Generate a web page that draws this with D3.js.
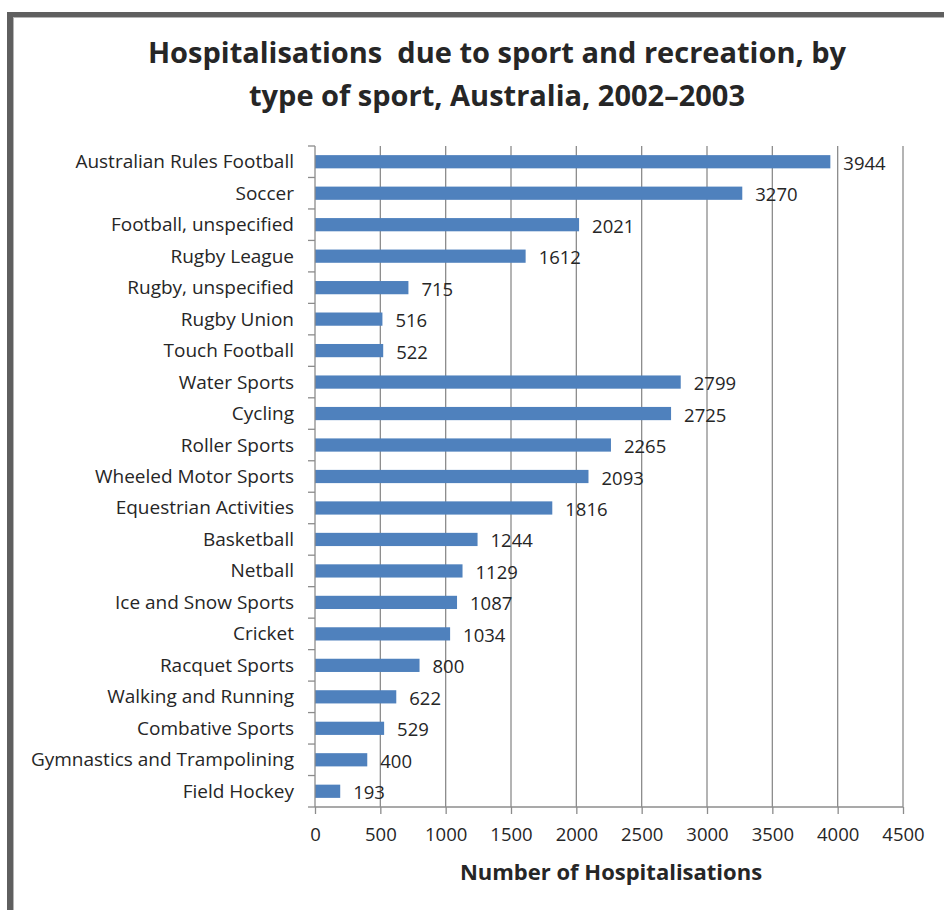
<!DOCTYPE html>
<html>
<head>
<meta charset="utf-8">
<script src="https://cdn.jsdelivr.net/npm/d3@7"></script>
<style>
  body { margin: 0; background: #fff; }
  svg text { font-family: "Open Sans", "Noto Sans", sans-serif; fill: #262626; }
</style>
</head>
<body>
<div id="chart"></div>
<script>
const sports = [
  "Australian Rules Football", "Soccer", "Football, unspecified", "Rugby League",
  "Rugby, unspecified", "Rugby Union", "Touch Football", "Water Sports", "Cycling",
  "Roller Sports", "Wheeled Motor Sports", "Equestrian Activities", "Basketball",
  "Netball", "Ice and Snow Sports", "Cricket", "Racquet Sports", "Walking and Running",
  "Combative Sports", "Gymnastics and Trampolining", "Field Hockey"
];
const hospitalisations = [
  3944, 3270, 2021, 1612, 715, 516, 522, 2799, 2725, 2265, 2093, 1816,
  1244, 1129, 1087, 1034, 800, 622, 529, 400, 193
];
const xTicks = [0, 500, 1000, 1500, 2000, 2500, 3000, 3500, 4000, 4500];
const titleLines = ["Hospitalisations  due to sport and recreation, by", "type of sport, Australia, 2002\u20132003"];
const xTitle = "Number of Hospitalisations";

const data = sports.map((s, i) => ({ sport: s, value: hospitalisations[i] }));

const width = 944, height = 910;
const plot = { left: 315, right: 903, top: 146, bottom: 807 };

const svg = d3.select("#chart").append("svg")
  .attr("width", width)
  .attr("height", height);

// frame (grey border on top and left)
svg.append("rect").attr("x", 7).attr("y", 12).attr("width", width).attr("height", 5).attr("fill", "#5f5f5f");
svg.append("rect").attr("x", 7).attr("y", 12).attr("width", 6).attr("height", height).attr("fill", "#5f5f5f");
svg.append("rect").attr("x", 13).attr("y", 17).attr("width", width).attr("height", 1).attr("fill", "#b5b5b5");
svg.append("rect").attr("x", 13).attr("y", 17).attr("width", 1).attr("height", height).attr("fill", "#b5b5b5");

const xScale = d3.scaleLinear().domain([0, 4500]).range([plot.left, plot.right]);
const yScale = d3.scaleBand().domain(sports).range([plot.top, plot.bottom]).paddingInner(0.58).paddingOuter(0.29);

// gridlines
svg.append("g")
  .selectAll("line")
  .data(xTicks.filter(d => d > 0))
  .join("line")
  .attr("x1", d => xScale(d)).attr("x2", d => xScale(d))
  .attr("y1", plot.top).attr("y2", plot.bottom)
  .attr("stroke", "#8c8c8c").attr("stroke-width", 1.3);

// bars
svg.append("g")
  .selectAll("rect")
  .data(data)
  .join("rect")
  .attr("x", xScale(0))
  .attr("y", d => yScale(d.sport))
  .attr("width", d => xScale(d.value) - xScale(0))
  .attr("height", yScale.bandwidth())
  .attr("fill", "#4f81bd");

// value labels
svg.append("g")
  .selectAll("text")
  .data(data)
  .join("text")
  .attr("x", d => xScale(d.value) + 13)
  .attr("y", d => yScale(d.sport) + yScale.bandwidth() / 2 + 8)
  .attr("font-size", 18.5)
  .text(d => d.value);

// x axis
const xAxis = svg.append("g")
  .attr("transform", `translate(0,${plot.bottom})`)
  .call(d3.axisBottom(xScale).tickValues(xTicks).tickSize(7).tickPadding(14).tickFormat(d3.format("d")));
xAxis.select(".domain").attr("stroke", "#8c8c8c").attr("stroke-width", 1.3).attr("d", `M${plot.left},0H${plot.right}`);
xAxis.selectAll(".tick line").attr("stroke", "#8c8c8c").attr("stroke-width", 1.3);
xAxis.selectAll(".tick text").attr("font-size", 18.5).attr("font-family", null).attr("fill", "#262626");

// y axis line and ticks between categories
svg.append("line")
  .attr("x1", plot.left).attr("x2", plot.left)
  .attr("y1", plot.top).attr("y2", plot.bottom)
  .attr("stroke", "#8c8c8c").attr("stroke-width", 1.3);
const step = yScale.step();
svg.append("g")
  .selectAll("line")
  .data(d3.range(sports.length + 1))
  .join("line")
  .attr("x1", plot.left - 7).attr("x2", plot.left)
  .attr("y1", i => plot.top + i * step).attr("y2", i => plot.top + i * step)
  .attr("stroke", "#8c8c8c").attr("stroke-width", 1.3);

// category labels
svg.append("g")
  .selectAll("text")
  .data(data)
  .join("text")
  .attr("x", 294)
  .attr("y", d => yScale(d.sport) + yScale.bandwidth() / 2 + 6.5)
  .attr("text-anchor", "end")
  .attr("font-size", 19)
  .text(d => d.sport);

// title
svg.append("g")
  .selectAll("text")
  .data(titleLines)
  .join("text")
  .attr("x", 497)
  .attr("y", (d, i) => 63 + i * 43)
  .attr("text-anchor", "middle")
  .attr("font-size", 29)
  .attr("font-weight", "bold")
  .attr("fill", "#111")
  .style("white-space", "pre")
  .text(d => d);

// axis title
svg.append("text")
  .attr("x", 611)
  .attr("y", 880)
  .attr("text-anchor", "middle")
  .attr("font-size", 22)
  .attr("font-weight", "bold")
  .attr("fill", "#111")
  .text(xTitle);
</script>
</body>
</html>
